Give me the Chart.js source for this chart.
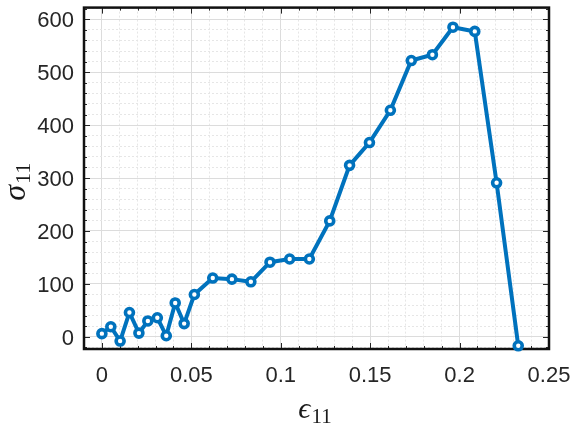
<!DOCTYPE html>
<html lang="en">
<head>
    <meta charset="UTF-8">
    <title>Stress-strain curve</title>
    <script src="https://cdn.jsdelivr.net/npm/chart.js"></script>
    <style>
        html, body {
            margin: 0;
            padding: 0;
            background: #ffffff;
        }
        .chart-box {
            width: 572px;
            height: 426px;
        }
    </style>
</head>
<body>
    <div class="chart-box">
        <canvas id="curve"></canvas>
    </div>

    <script>
        // strain / stress samples
        const strain = [0, 0.005, 0.0102, 0.0154, 0.0207, 0.0257, 0.031, 0.036, 0.041, 0.046,
            0.0517, 0.062, 0.0727, 0.0833, 0.094, 0.105, 0.116, 0.1274, 0.1385, 0.1496,
            0.1613, 0.173, 0.1848, 0.1963, 0.2085, 0.2207, 0.2328];
        const stress = [6, 19, -8, 46, 7, 30, 36, 2, 64, 25,
            80, 111, 109, 104, 141, 147, 147, 219, 324, 367,
            428, 522, 533, 585, 577, 291, -17];

        // labelled ticks
        const xMajor = [0, 0.05, 0.1, 0.15, 0.2, 0.25];
        const yMajor = [0, 100, 200, 300, 400, 500, 600];

        const blue = '#0072bd';
        const axisInk = '#262626';

        const isMajor = (list, v) => list.some(m => Math.abs(m - v) < 1e-6);

        const gridColor = list => ctx =>
            ctx.tick && isMajor(list, ctx.tick.value) ? '#dcdcdc' : '#e6e6e6';
        const gridDash = list => ctx =>
            ctx.tick && isMajor(list, ctx.tick.value) ? [] : [2, 2];

        // fixed plot box: no extra room for overhanging labels
        const fixScale = size => s => {
            if (s.isHorizontal()) s.height = size; else s.width = size;
            s.paddingLeft = 0;
            s.paddingRight = 0;
            s.paddingTop = 0;
            s.paddingBottom = 0;
        };

        // box with inward major/minor ticks, drawn under the line
        const axesBox = {
            id: 'axesBox',
            beforeDatasetsDraw(chart) {
                const { ctx, chartArea: a, scales: { x, y } } = chart;
                ctx.save();
                ctx.strokeStyle = axisInk;
                ctx.lineWidth = 1;
                ctx.beginPath();
                x.ticks.forEach(t => {
                    const px = Math.round(x.getPixelForValue(t.value)) + 0.5;
                    const len = isMajor(xMajor, t.value) ? 6 : 3;
                    ctx.moveTo(px, a.bottom); ctx.lineTo(px, a.bottom - len);
                    ctx.moveTo(px, a.top); ctx.lineTo(px, a.top + len);
                });
                y.ticks.forEach(t => {
                    const py = Math.round(y.getPixelForValue(t.value)) + 0.5;
                    const len = isMajor(yMajor, t.value) ? 6 : 3;
                    ctx.moveTo(a.left, py); ctx.lineTo(a.left + len, py);
                    ctx.moveTo(a.right, py); ctx.lineTo(a.right - len, py);
                });
                ctx.stroke();
                ctx.strokeStyle = '#111111';
                ctx.lineWidth = 2.5;
                ctx.strokeRect(a.left, a.top, a.right - a.left, a.bottom - a.top);
                ctx.restore();
            }
        };

        // symbol + upright subscript, e.g. sigma_11
        function drawSymbol(ctx, sym, sub, cx, cy, size) {
            const symFont = 'italic ' + size + 'px "Liberation Serif", "DejaVu Serif", serif';
            const subFont = Math.round(size * 0.7) + 'px "Liberation Serif", "DejaVu Serif", serif';
            ctx.font = symFont;
            const w1 = ctx.measureText(sym).width;
            ctx.font = subFont;
            const w2 = ctx.measureText(sub).width;
            const left = cx - (w1 + w2) / 2;
            ctx.textBaseline = 'alphabetic';
            ctx.textAlign = 'left';
            ctx.fillStyle = '#1a1a1a';
            ctx.font = symFont;
            ctx.fillText(sym, left, cy);
            ctx.font = subFont;
            ctx.fillText(sub, left + w1 + 1, cy + size * 0.15);
        }

        const axisTitles = {
            id: 'axisTitles',
            afterDraw(chart) {
                const { ctx, chartArea: a } = chart;
                ctx.save();
                drawSymbol(ctx, '\u03f5', '11', (a.left + a.right) / 2 - 2, 418, 30);
                ctx.translate(25, (a.top + a.bottom) / 2 + 4);
                ctx.rotate(-Math.PI / 2);
                drawSymbol(ctx, '\u03c3', '11', 0, 0, 32);
                ctx.restore();
            }
        };

        const tickFont = { family: '"Liberation Sans", Arial, sans-serif', size: 22 };

        new Chart(document.getElementById('curve'), {
            type: 'scatter',
            data: {
                datasets: [{
                    data: strain.map((v, i) => ({ x: v, y: stress[i] })),
                    showLine: true,
                    borderColor: blue,
                    borderWidth: 4,
                    pointRadius: 4,
                    pointBorderWidth: 3.6,
                    pointBackgroundColor: '#ffffff',
                    pointBorderColor: blue,
                    clip: false
                }]
            },
            options: {
                responsive: true,
                maintainAspectRatio: false,
                animation: false,
                events: [],
                layout: { padding: { left: 0, top: 3, right: 23, bottom: 0 } },
                plugins: {
                    legend: { display: false },
                    tooltip: { enabled: false }
                },
                scales: {
                    x: {
                        type: 'linear',
                        min: -0.01,
                        max: 0.25,
                        afterFit: fixScale(77),
                        border: { display: false, dash: gridDash(xMajor) },
                        grid: { color: gridColor(xMajor), drawTicks: false, lineWidth: 1 },
                        ticks: {
                            stepSize: 0.01,
                            autoSkip: false,
                            maxRotation: 0,
                            maxTicksLimit: 100,
                            includeBounds: false,
                            padding: 14,
                            color: axisInk,
                            font: tickFont,
                            callback: v => isMajor(xMajor, v) ? String(+v.toFixed(2)) : ''
                        }
                    },
                    y: {
                        min: -23,
                        max: 622,
                        afterFit: fixScale(84),
                        border: { display: false, dash: gridDash(yMajor) },
                        grid: { color: gridColor(yMajor), drawTicks: false, lineWidth: 1 },
                        ticks: {
                            stepSize: 20,
                            autoSkip: false,
                            maxTicksLimit: 100,
                            includeBounds: false,
                            padding: 10,
                            labelOffset: 2,
                            color: axisInk,
                            font: tickFont,
                            callback: v => isMajor(yMajor, v) ? String(v) : ''
                        }
                    }
                }
            },
            plugins: [axesBox, axisTitles]
        });
    </script>
</body>
</html>
